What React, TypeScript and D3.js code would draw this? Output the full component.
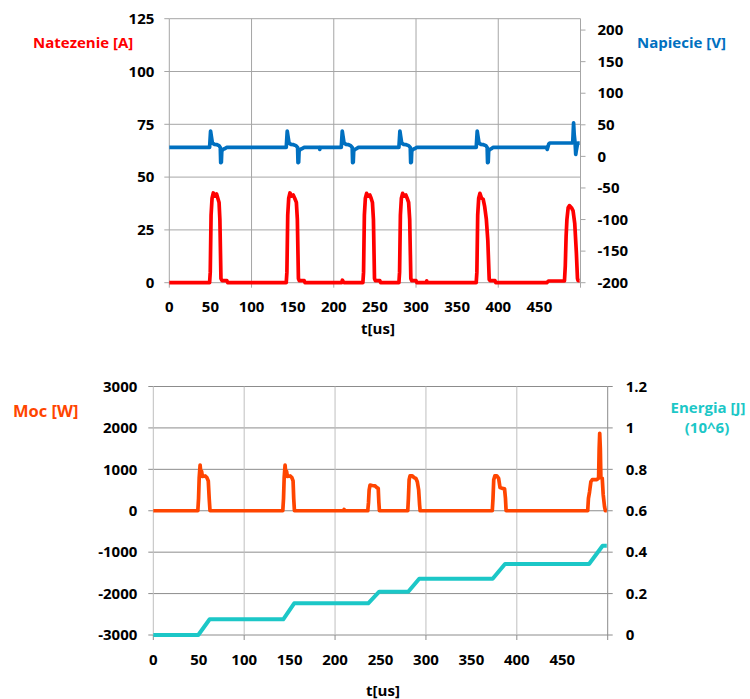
import React from "react";
import * as d3 from "d3";

// ---------- DATA ----------
const xTicksLabels = [0, 50, 100, 150, 200, 250, 300, 350, 400, 450];
const xGrid = [0, 100, 200, 300, 400, 500];

const currentTicks = [0, 25, 50, 75, 100, 125];
const voltageTicks = [-200, -150, -100, -50, 0, 50, 100, 150, 200];
const powerTicks = [-3000, -2000, -1000, 0, 1000, 2000, 3000];
const energyTicks = [0, 0.2, 0.4, 0.6, 0.8, 1, 1.2];

// Natezenie [A]
const currentT = [
  0, 49, 49.8, 50.8, 52, 53.5, 55.5, 57.5, 59, 60.5, 61.5, 62.8, 64, 70, 71,
  142.2, 143, 144, 145.2, 146.7, 148.7, 150.7, 152.5, 154.5, 155.7, 157, 158, 164, 165,
  209.5, 210.5, 211.5, 212.5,
  235.4, 236.2, 237.2, 238.4, 239.9, 241.9, 243.9, 245.4, 247, 248.2, 249.5, 250.5, 256, 257,
  279.2, 280, 281, 282.2, 283.7, 285.7, 287.7, 289.2, 291, 292.3, 293.7, 294.7, 300, 301,
  312, 313, 314,
  373.2, 374, 375, 376.2, 377.7, 379.7, 381.7, 383.5, 385.5, 387.3, 389, 390, 396, 397,
  459, 461, 480.5, 481.5, 482.5, 483.5, 485, 486.5, 489, 491, 493, 495, 496.3, 497, 499,
];
const currentV = [
  0, 0, 5, 32, 40, 42.5, 41, 42, 40, 38, 30, 2, 1, 1, 0,
  0, 5, 32, 40, 42.5, 41, 41.5, 40, 38, 30, 2, 1, 1, 0,
  0, 1.2, 0.5, 0,
  0, 5, 32, 40, 42.3, 41, 41.5, 40, 38, 30, 2, 1, 1, 0,
  0, 5, 32, 40, 42.3, 41, 41.5, 40, 38, 30, 2, 1, 1, 0,
  0, 0.8, 0,
  0, 5, 32, 40, 42.3, 40, 39.5, 36, 30, 20, 1.5, 1, 1, 0,
  0, 0.8, 0.8, 8, 22, 30, 35.5, 36.5, 35.5, 34, 28, 14, 2, 1, 1,
];

// Napiecie [V]
const voltageT = [
  0, 49, 49.5, 50.2, 51, 52.4, 55, 58, 60.5, 62, 62.5, 63.3, 63.8, 65, 67, 70,
  142.2, 142.7, 143.4, 144.2, 145.6, 148, 151, 154, 156, 156.5, 157.3, 157.8, 159, 161, 164,
  182.5, 183, 183.5,
  209.1, 209.6, 210.3, 211.1, 212.5, 215, 218, 220.5, 222.4, 222.9, 223.7, 224.2, 225.4, 227.4, 230,
  279.2, 279.7, 280.4, 281.2, 282.6, 285, 288, 291, 293, 293.5, 294.3, 294.8, 296, 298, 301,
  373.2, 373.7, 374.4, 375.2, 376.6, 379, 382, 385, 386.5, 387, 387.8, 388.3, 389.5, 391.5, 394,
  458.5, 459.5, 461.5, 462.5, 490.5, 491, 491.6, 492.3, 493.5, 494.2, 495, 496.5, 499,
];
const voltageV = [
  14.3, 14.3, 25, 40, 33, 21, 19, 18.5, 17, 14, -10, -9, 8, 11, 12, 14.3,
  14.3, 25, 40, 33, 21, 19, 18.5, 17, 14, -10, -9, 8, 11, 12, 14.3,
  14.3, 11, 14.3,
  14.3, 25, 40, 33, 21, 19, 18.5, 17, 14, -10, -9, 8, 11, 12, 14.3,
  14.3, 25, 40, 33, 21, 19, 18.5, 17, 14, -10, -9, 8, 11, 12, 14.3,
  14.3, 25, 40, 33, 21, 19, 18.5, 17, 14, -10, -9, 8, 11, 12, 14.3,
  14.3, 11, 20, 21.2, 21.2, 35, 53, 35, 20, 3, 10, 21, 21,
];

// Moc [W]
const powerT = [
  0, 49, 49.8, 50.5, 51.5, 52.5, 53.2, 54, 57, 59, 60.5, 61.5, 62.4,
  142.5, 143.3, 144, 145, 146, 146.7, 147.5, 150.5, 152.5, 153.8, 154.5, 155.3,
  209.5, 210, 210.5,
  236, 236.8, 237.5, 238.5, 241, 244, 246, 247.5, 248.2, 248.8,
  280, 280.7, 281.5, 282.5, 285, 287, 289, 290.5, 292, 293, 293.6,
  373, 373.8, 374.6, 375.8, 378, 380, 381.5, 384, 386.5, 387.5, 388.2,
  478, 478.8, 480, 481.5, 483, 488, 490, 490.6, 491.2, 491.9, 492.5, 494, 495, 496.5, 497.5, 499,
];
const powerV = [
  0, 0, 300, 800, 1104, 850, 950, 830, 840, 800, 720, 300, 0,
  0, 300, 800, 1100, 850, 950, 830, 840, 800, 720, 300, 0,
  0, 30, 0,
  0, 200, 500, 620, 610, 600, 560, 540, 200, 0,
  0, 300, 750, 840, 840, 800, 780, 700, 500, 150, 0,
  0, 300, 750, 840, 840, 780, 560, 540, 530, 300, 0,
  0, 300, 450, 700, 750, 750, 790, 1500, 1870, 1500, 800, 780, 400, 100, 0, 0,
];

// Energia [J] (10^6)
const energyT = [0, 49.5, 62, 143, 155, 236.5, 248.6, 280.5, 292.6, 373.4, 387, 479.5, 494.4, 499];
const energyV = [0, 0, 0.076, 0.076, 0.153, 0.153, 0.209, 0.209, 0.272, 0.272, 0.343, 0.343, 0.431, 0.431];

// ---------- STYLE ----------
const FONT = "'Open Sans', sans-serif";
const FS = 15;
const RED = "#FF0000";
const BLUE = "#0070C0";
const ORANGE = "#FF4500";
const CYAN = "#1CC7C7";

type P = [number, number];
const zip = (a: number[], b: number[]): P[] => a.map((t, i) => [t, b[i]]);

export default function App() {
  // top chart scales
  const x1 = d3.scaleLinear().domain([0, 500]).range([169.3, 580.5]);
  const yA = d3.scaleLinear().domain([0, 125]).range([282.7, 18.7]);
  const yV = d3.scaleLinear().domain([-200, 218]).range([282.7, 18.7]);
  // bottom chart scales
  const x2 = d3.scaleLinear().domain([0, 500]).range([153.3, 607.7]);
  const yP = d3.scaleLinear().domain([-3000, 3000]).range([635, 386.5]);
  const yE = d3.scaleLinear().domain([0, 1.2]).range([635, 386.5]);

  const lineA = d3.line<P>().x((d) => x1(d[0])).y((d) => yA(d[1]));
  const lineV = d3.line<P>().x((d) => x1(d[0])).y((d) => yV(d[1]));
  const lineP = d3.line<P>().x((d) => x2(d[0])).y((d) => yP(d[1]));
  const lineE = d3.line<P>().x((d) => x2(d[0])).y((d) => yE(d[1]));

  const [tx0, tx1] = x1.range();
  const [bx0, bx1] = x2.range();

  const tickText = { fontFamily: FONT, fontSize: FS, fontWeight: 700, fill: "#000" } as const;

  return (
    <svg
      width={750}
      height={699}
      style={{ position: "absolute", left: 0, top: 0, background: "#fff" }}
    >
      {/* ===== TOP CHART ===== */}
      <g>
        {currentTicks.map((v) => (
          <g key={"ga" + v}>
            <line x1={tx0} x2={tx1} y1={yA(v)} y2={yA(v)} stroke="#A6A6A6" strokeWidth={1} />
            <line x1={tx0 - 5} x2={tx0} y1={yA(v)} y2={yA(v)} stroke="#A6A6A6" strokeWidth={1} />
            <text x={tx0 - 15} y={yA(v)} dy="0.35em" textAnchor="end" {...tickText}>
              {v}
            </text>
          </g>
        ))}
        {xGrid.map((v) => (
          <g key={"gx1" + v}>
            <line x1={x1(v)} x2={x1(v)} y1={yA(125)} y2={yA(0)} stroke="#A6A6A6" strokeWidth={1} />
            <line x1={x1(v)} x2={x1(v)} y1={yA(0)} y2={yA(0) + 5} stroke="#A6A6A6" strokeWidth={1} />
          </g>
        ))}
        {voltageTicks.map((v) => (
          <g key={"gv" + v}>
            <line x1={tx1} x2={tx1 + 5} y1={yV(v)} y2={yV(v)} stroke="#A6A6A6" strokeWidth={1} />
            <text x={tx1 + 17} y={yV(v)} dy="0.35em" textAnchor="start" {...tickText}>
              {v}
            </text>
          </g>
        ))}
        {xTicksLabels.map((v) => (
          <text key={"xl1" + v} x={x1(v)} y={307} dy="0.35em" textAnchor="middle" {...tickText}>
            {v}
          </text>
        ))}
        <text x={378} y={329} dy="0.35em" textAnchor="middle" {...tickText}>
          t[us]
        </text>
        <text x={33} y={43} dy="0.35em" textAnchor="start" {...tickText} fill={RED}>
          Natezenie [A]
        </text>
        <text x={637} y={43} dy="0.35em" textAnchor="start" {...tickText} fill={BLUE}>
          Napiecie [V]
        </text>
        <path d={lineV(zip(voltageT, voltageV)) || ""} fill="none" stroke={BLUE} strokeWidth={3.7} strokeLinejoin="round" />
        <path d={lineA(zip(currentT, currentV)) || ""} fill="none" stroke={RED} strokeWidth={3.7} strokeLinejoin="round" />
      </g>

      {/* ===== BOTTOM CHART ===== */}
      <g>
        {powerTicks.map((v) => (
          <g key={"gp" + v}>
            <line x1={bx0} x2={bx1} y1={yP(v)} y2={yP(v)} stroke="#8C8C8C" strokeWidth={1} />
            <line x1={bx0 - 5} x2={bx0} y1={yP(v)} y2={yP(v)} stroke="#8C8C8C" strokeWidth={1} />
            <text x={bx0 - 16} y={yP(v)} dy="0.35em" textAnchor="end" {...tickText}>
              {v}
            </text>
          </g>
        ))}
        {xGrid.map((v) => (
          <g key={"gx2" + v}>
            <line x1={x2(v)} x2={x2(v)} y1={yP(3000)} y2={yP(-3000)} stroke={v === 500 ? "#8C8C8C" : "#BFBFBF"} strokeWidth={1} />
            <line x1={x2(v)} x2={x2(v)} y1={yP(-3000)} y2={yP(-3000) + 5} stroke="#8C8C8C" strokeWidth={1} />
          </g>
        ))}
        {energyTicks.map((v) => (
          <g key={"ge" + v}>
            <line x1={bx1} x2={bx1 + 5} y1={yE(v)} y2={yE(v)} stroke="#8C8C8C" strokeWidth={1} />
            <text x={bx1 + 18} y={yE(v)} dy="0.35em" textAnchor="start" {...tickText}>
              {v}
            </text>
          </g>
        ))}
        {xTicksLabels.map((v) => (
          <text key={"xl2" + v} x={x2(v)} y={659.5} dy="0.35em" textAnchor="middle" {...tickText}>
            {v}
          </text>
        ))}
        <text x={383} y={691} dy="0.35em" textAnchor="middle" {...tickText}>
          t[us]
        </text>
        <text x={13} y={411} dy="0.35em" textAnchor="start" {...tickText} fontSize={16.5} fill={ORANGE}>
          Moc [W]
        </text>
        <text x={708} y={408} dy="0.35em" textAnchor="middle" {...tickText} fill={CYAN}>
          Energia [J]
        </text>
        <text x={707} y={428} dy="0.35em" textAnchor="middle" {...tickText} fill={CYAN}>
          (10^6)
        </text>
        <path d={lineE(zip(energyT, energyV)) || ""} fill="none" stroke={CYAN} strokeWidth={4} strokeLinejoin="round" />
        <path d={lineP(zip(powerT, powerV)) || ""} fill="none" stroke={ORANGE} strokeWidth={3.7} strokeLinejoin="round" />
      </g>
    </svg>
  );
}
